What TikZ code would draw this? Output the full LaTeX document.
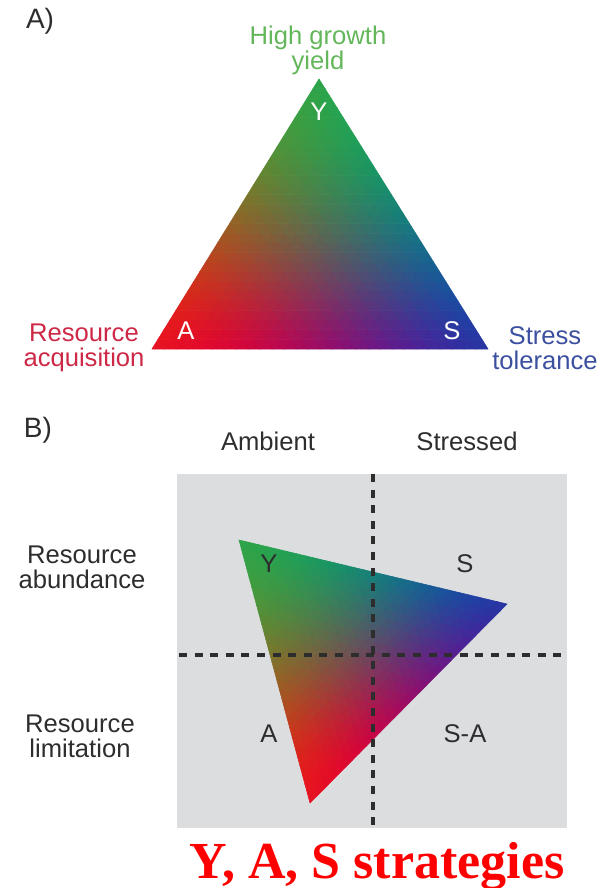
\documentclass[tikz,border=0pt]{standalone}
\usepackage{fontspec}
\setmainfont{Liberation Serif}
\setsansfont{Liberation Sans}
\usetikzlibrary{calc}

\definecolor{labgray}{RGB}{45,45,45}
\definecolor{yieldgreen}{RGB}{100,182,90}
\definecolor{acqred}{RGB}{205,40,70}
\definecolor{stressblue}{RGB}{60,80,160}
\definecolor{boxgray}{RGB}{220,221,223}
\definecolor{titlered}{RGB}{255,0,0}

\newcommand{\trinum}{28}

% one cell of the colour triangle: (#1,#2) = index, #3 = 0 (up) or 1 (down)
\newcommand{\tricell}[3]{%
  \pgfmathsetmacro{\wty}{(#1+(1+#3)/3)/\trinum}%
  \pgfmathsetmacro{\wta}{(#2+(1+#3)/3)/\trinum}%
  \pgfmathsetmacro{\wts}{1-\wty-\wta}%
  % let the green corner reach a bit further in
  \pgfmathsetmacro{\wsum}{1.3*\wty+\wta+\wts}%
  \pgfmathsetmacro{\wty}{1.3*\wty/\wsum}%
  \pgfmathsetmacro{\wta}{\wta/\wsum}%
  \pgfmathsetmacro{\wts}{1-\wty-\wta}%
  % corner colours Y / A / S
  \pgfmathsetmacro{\cellr}{0.18*\wty+0.89*\wta+0.16*\wts}%
  \pgfmathsetmacro{\cellg}{0.64*\wty+0.08*\wta+0.21*\wts}%
  \pgfmathsetmacro{\cellb}{0.29*\wty+0.14*\wta+0.63*\wts}%
  % push mixed tones away from grey
  \pgfmathsetmacro{\boost}{1+2*(\wty*\wta+\wta*\wts+\wty*\wts)}%
  \pgfmathsetmacro{\cellm}{(\cellr+\cellg+\cellb)/3}%
  \pgfmathsetmacro{\cellr}{min(1,max(0,\cellm+(\cellr-\cellm)*\boost))}%
  \pgfmathsetmacro{\cellg}{min(1,max(0,\cellm+(\cellg-\cellm)*\boost))}%
  \pgfmathsetmacro{\cellb}{min(1,max(0,\cellm+(\cellb-\cellm)*\boost))}%
  \definecolor{cellcol}{rgb}{\cellr,\cellg,\cellb}%
  \pgfmathsetmacro{\vxa}{(#1+#3)/\trinum}%
  \pgfmathsetmacro{\vya}{(#2+#3)/\trinum}%
  \pgfmathsetmacro{\vxb}{(#1+1)/\trinum}%
  \pgfmathsetmacro{\vyb}{(#2+1)/\trinum}%
  \pgfmathsetmacro{\vxc}{#1/\trinum}%
  \pgfmathsetmacro{\vyc}{#2/\trinum}%
  \filldraw[cellcol, line width=0.3pt, line join=round]
    (\vxa,\vya) -- (\vxb,\vyc) -- (\vxc,\vyb) -- cycle;%
}

% Y-A-S colour triangle, corners #1 (Y), #2 (A), #3 (S)
\newcommand{\yastriangle}[3]{%
  \begin{scope}[shift={(#3)}, x={($(#1)-(#3)$)}, y={($(#2)-(#3)$)}]
    \foreach \i in {0,...,27} {
      \pgfmathtruncatemacro{\jmax}{27-\i}
      \foreach \j in {0,...,\jmax} {
        \tricell{\i}{\j}{0}
        \ifnum\j<\jmax \tricell{\i}{\j}{1}\fi
      }
    }
  \end{scope}}

\begin{document}
\begin{tikzpicture}[x=0.5pt, y=-0.5pt,
  lab/.style={font=\sffamily\fontsize{12.8}{12.5}\selectfont, text=labgray, align=center},
  panel/.style={font=\sffamily\fontsize{14}{14}\selectfont, text=labgray},
  corner/.style={font=\sffamily\fontsize{12.8}{12.8}\selectfont},
  quadline/.style={draw=labgray, line width=1.7pt, dash pattern=on 4pt off 3.8pt}]

  \useasboundingbox (0,0) rectangle (601,888);

  % panel A: strategy triangle
  \node[panel] (pa) at (40,21) {A)};
  \coordinate (Y) at (319,79);
  \coordinate (A) at (152,349);
  \coordinate (S) at (488,349);
  \yastriangle{Y}{A}{S}
  \node[corner, text=white] (ly) at (319,112) {Y};
  \node[corner, text=white] (la) at (186,331) {A};
  \node[corner, text=white] (ls) at (452,331) {S};
  \node[lab, text=yieldgreen] (yield) at (318,50) {High growth\\yield};
  \node[lab, text=acqred] (acq) at (84,348) {Resource\\acquisition};
  \node[lab, text=stressblue] (tol) at (545,348) {Stress\\tolerance};

  % panel B: environment quadrants
  \node[panel] (pb) at (38,430) {B)};
  \node[lab] (amb) at (268,441) {Ambient};
  \node[lab] (str) at (467,441) {Stressed};
  \node[lab] (abund) at (82,567) {Resource\\abundance};
  \node[lab] (limit) at (80,736) {Resource\\limitation};

  \fill[boxgray] (177,474) rectangle (567,828);
  \coordinate (Yb) at (239,540);
  \coordinate (Ab) at (310,803);
  \coordinate (Sb) at (507,604);
  \yastriangle{Yb}{Ab}{Sb}

  \coordinate (qtop) at (373,474);
  \coordinate (qbot) at (373,828);
  \coordinate (qleft) at (179,655);
  \coordinate (qright) at (568,655);
  \draw[quadline] (qtop) -- (qbot);
  \draw[quadline] (qleft) -- (qright);

  \node[lab] (qy) at (269,564) {Y};
  \node[lab] (qs) at (465,564) {S};
  \node[lab] (qa) at (269,734) {A};
  \node[lab] (qsa) at (465,734) {S-A};

  \node[font=\bfseries\fontsize{26}{26}\selectfont, text=titlered, anchor=base]
    (title) at (377,878) {Y, A, S strategies};
\end{tikzpicture}
\end{document}
